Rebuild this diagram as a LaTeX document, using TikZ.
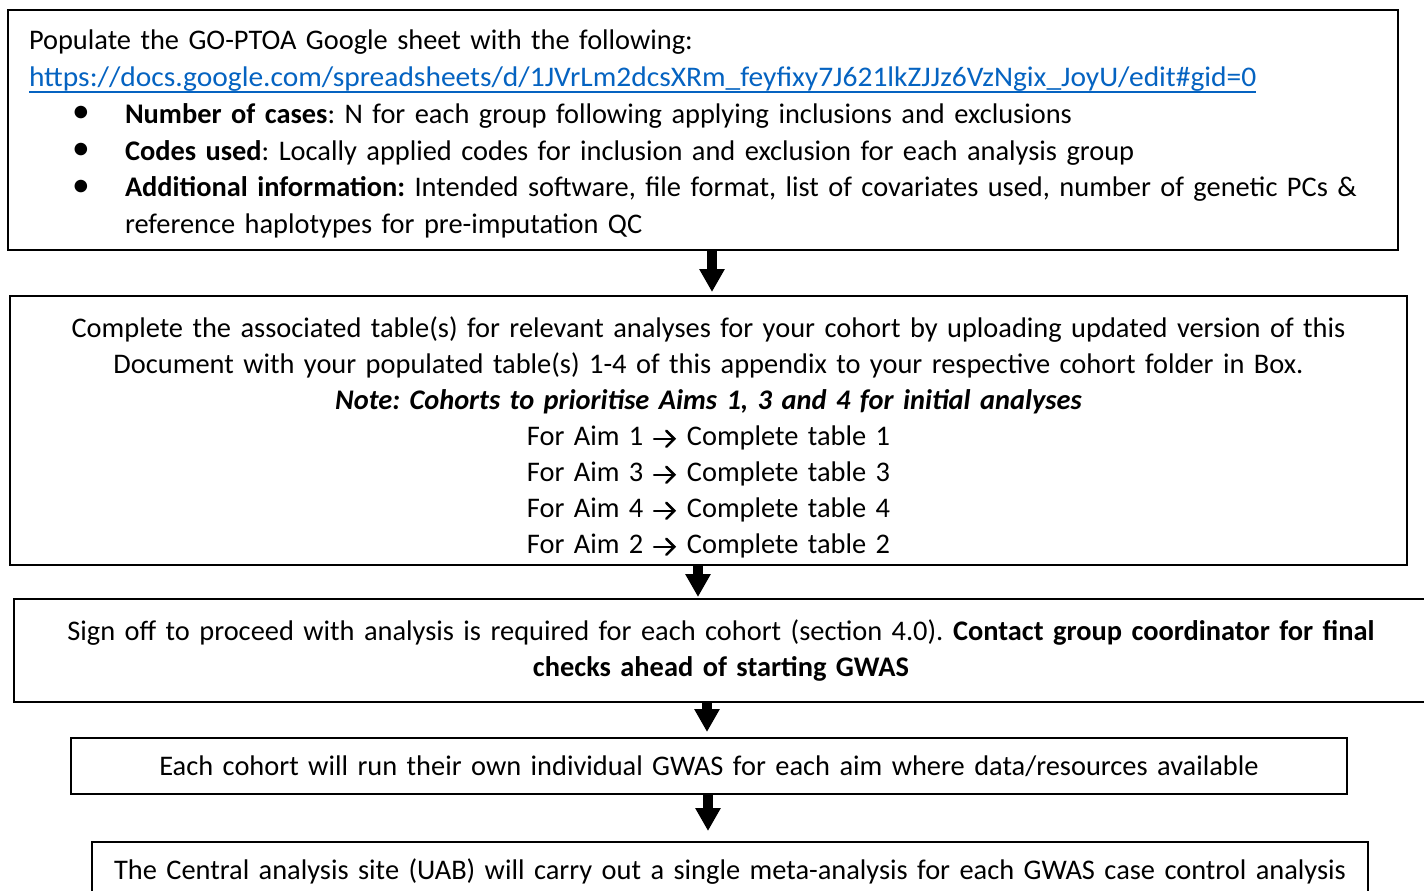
\documentclass[tikz,border=0pt]{standalone}
\usepackage{fontspec}
\setmainfont{Carlito}
\frenchspacing
\usetikzlibrary{arrows.meta}
\definecolor{linkblue}{HTML}{0563C1}
\newcommand\listdot[1]{\par\noindent\hspace*{21.5pt}\makebox[26.5pt][l]{\raisebox{0.3pt}{\scalebox{1.25}{\textbullet}}}\parbox[t]{626pt}{\raggedright #1}}
\newcommand\linkline[1]{\setbox0\hbox{#1}\rlap{\rule[-3.2pt]{\wd0}{0.9pt}}\box0}
\newcommand\aimto{\tikz[baseline]{\draw[line width=1.3pt, line cap=round, -{Straight Barb[length=4pt,width=8pt,line cap=round]}] (0pt,3.2pt) -- (11pt,3.2pt);}}
\tikzset{
	stepbox/.style={draw, line width=1pt, inner sep=0pt, font=\fontsize{14.2}{18}\selectfont},
	flow/.style={line width=5pt, -{Triangle[width=12pt,length=11.5pt]}}
}
\begin{document}
\begin{tikzpicture}[x=0.5pt,y=-0.5pt]
		\useasboundingbox (0,0) rectangle (1424,890);
		\node[stepbox, font=\fontsize{14.2}{18.4}\selectfont, minimum width=695pt, minimum height=120pt, inner xsep=10.5pt, text width=674pt, align=left] (b1) at (703,130) {%
			\rule{0pt}{14pt}Populate the GO-PTOA Google sheet with the following:\par
			\noindent{\color{linkblue}\scalebox{1.038}[1]{\linkline{https://docs.google.com/spreadsheets/d/1JVrLm2dcsXRm\_feyfixy7J621lkZJJz6VzNgix\_JoyU/edit\#gid=0}}}
			\listdot{\textbf{Number of cases}: N for each group following applying inclusions and exclusions}
			\listdot{\textbf{Codes used}: Locally applied codes for inclusion and exclusion for each analysis group}
			\listdot{\textbf{Additional information:} Intended software, file format, list of covariates used, number of genetic PCs \& reference haplotypes for pre-imputation QC}};
		\node[stepbox, minimum width=698.5pt, minimum height=134.5pt, text width=690pt, align=center] (b2) at (708.5,430.5) {%
			\rule{0pt}{17pt}Complete the associated table(s) for relevant analyses for your cohort by uploading updated version of this\\
			Document with your populated table(s) 1-4 of this appendix to your respective cohort folder in Box.\\
			\textbf{\textit{Note: Cohorts to prioritise Aims 1, 3 and 4 for initial analyses}}\\
			For Aim 1 \aimto{} Complete table 1\\
			For Aim 3 \aimto{} Complete table 3\\
			For Aim 4 \aimto{} Complete table 4\\
			For Aim 2 \aimto{} Complete table 2};
		\node[stepbox, minimum width=707pt, minimum height=51.5pt, text width=690pt, align=center] (b3) at (721,650.5) {%
			Sign off to proceed with analysis is required for each cohort (section 4.0). \textbf{Contact group coordinator for final}\\
			\textbf{checks ahead of starting GWAS}};
		\node[stepbox, minimum width=638pt, minimum height=28pt, text width=630pt, align=center] (b4) at (709,766) {Each cohort will run their own individual GWAS for each aim where data/resources available};
		\node[stepbox, minimum width=638pt, minimum height=30pt, text width=630pt, align=center] (b5) at (730,872) {The Central analysis site (UAB) will carry out a single meta-analysis for each GWAS case control analysis};

		\draw[flow, shorten >=1.5pt] ([xshift=4.5pt]b1.south) -- ([xshift=4.5pt]b1.south |- b2.north);
		\draw[flow, shorten >=0.5pt] ([xshift=-5.25pt]b2.south) -- ([xshift=-5.25pt]b2.south |- b3.north);
		\draw[flow, shorten >=2.5pt] ([xshift=-7pt]b3.south) -- ([xshift=-7pt]b3.south |- b4.north);
		\draw[flow, shorten >=5pt] ([xshift=-0.5pt]b4.south) -- ([xshift=-0.5pt]b4.south |- b5.north);
	\end{tikzpicture}
\end{document}
